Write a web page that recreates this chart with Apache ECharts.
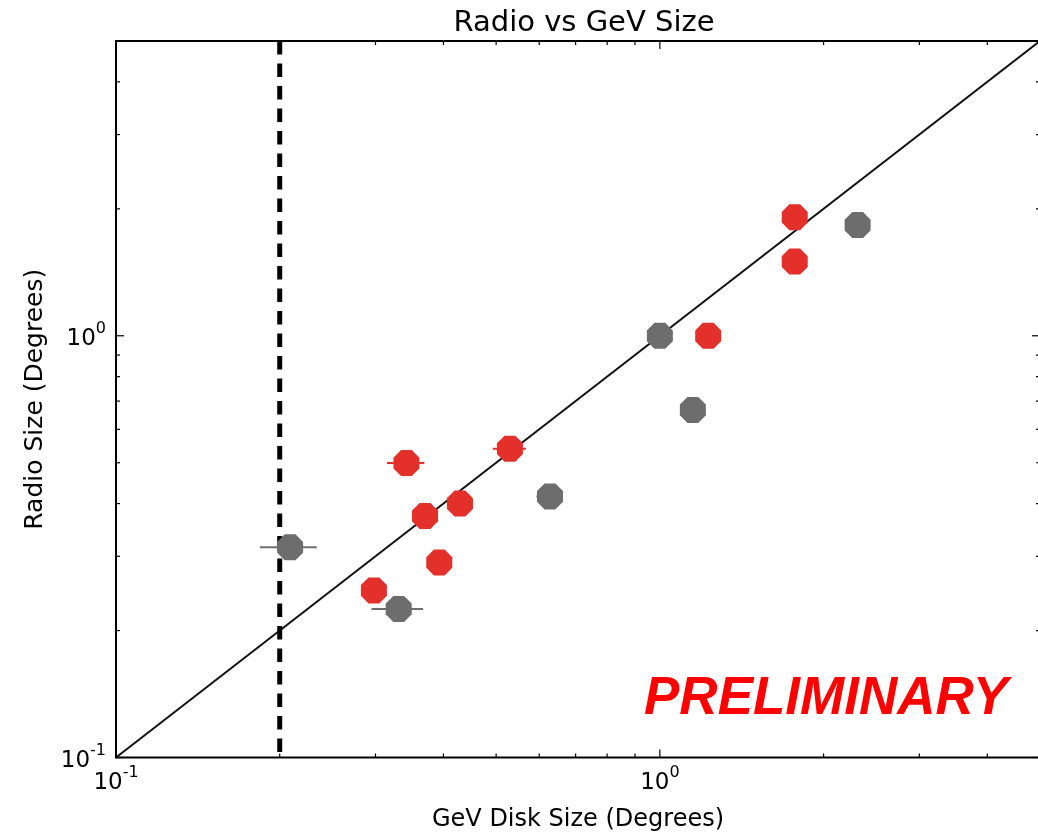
<!DOCTYPE html>
<html>
<head>
<meta charset="utf-8">
<title>Radio vs GeV Size</title>
<script src="https://cdn.jsdelivr.net/npm/echarts@6/dist/echarts.min.js"></script>
<style>
  html, body { margin: 0; padding: 0; background: #fff; }
  #chart { width: 1038px; height: 835px; }
</style>
</head>
<body>
<div id="chart"></div>
<script>
// Sources with no radio counterpart shown in grey, radio-detected ones in red.
const grayX    = [0.209, 0.331, 0.628, 1.00, 1.15, 2.31];
const grayY    = [0.315, 0.225, 0.416, 1.00, 0.667, 1.83];
const grayXErr = [0.025, 0.036, 0.035, 0, 0, 0];

const redX    = [0.298, 0.342, 0.370, 0.393, 0.429, 0.530, 1.227, 1.77, 1.77];
const redY    = [0.249, 0.499, 0.374, 0.290, 0.400, 0.540, 1.00, 1.50, 1.91];
const redXErr = [0, 0.027, 0, 0, 0, 0.037, 0, 0, 0];

// Axis range (both axes), resolution limit, and tick positions
const axisMin = 0.1;
const axisMax = 5;
const resolutionLimit = 0.2;
const majorTicks = [0.1, 1];
const minorTicks = [0.2, 0.3, 0.4, 0.5, 0.6, 0.7, 0.8, 0.9, 2, 3, 4];
const tickLabels = { 0.1: ['10', '-1'], 1: ['10', '0'] };

const RED = '#e3302a';
const GRAY = '#6d6d6d';
const FONT = 'DejaVu Sans';
const OCTAGON = 'path://M38 -92L92 -38L92 38L38 92L-38 92L-92 38L-92 -38L-38 -92Z';

const pts = (xs, ys) => xs.map((x, i) => [x, ys[i]]);
const errs = (xs, ys, es) => xs.map((x, i) => [x, ys[i], es[i]]);

function labelFmt(v) {
  for (const k of Object.keys(tickLabels)) {
    if (Math.abs(v - Number(k)) < 1e-9) {
      const t = tickLabels[k];
      return '{b|' + t[0] + '}{s|' + t[1] + '}';
    }
  }
  return '';
}
const labelRich = {
  b: { fontFamily: FONT, fontSize: 23, color: '#000', lineHeight: 30, verticalAlign: 'bottom' },
  s: { fontFamily: FONT, fontSize: 16, color: '#000', lineHeight: 16, verticalAlign: 'top' }
};

function errorBarSeries(data, color) {
  return {
    type: 'custom',
    z: 3,
    data: data,
    renderItem: function (params, api) {
      const x = api.value(0), y = api.value(1), e = api.value(2);
      if (!e) return null;
      const a = api.coord([x - e, y]);
      const b = api.coord([x + e, y]);
      return {
        type: 'line',
        shape: { x1: a[0], y1: a[1], x2: b[0], y2: b[1] },
        style: { stroke: color, lineWidth: 2 }
      };
    }
  };
}

// Inward ticks on all four sides of the frame
const tickData = majorTicks.map(v => [v, v, 8]).concat(minorTicks.map(v => [v, v, 4]));
const tickSeries = {
  type: 'custom',
  z: 6,
  silent: true,
  clip: false,
  data: tickData,
  renderItem: function (params, api) {
    const cs = params.coordSys;
    const v = api.value(0), len = api.value(2);
    const px = api.coord([v, axisMin])[0];
    const py = api.coord([axisMin, v])[1];
    const left = cs.x, right = cs.x + cs.width, top = cs.y, bottom = cs.y + cs.height;
    const st = { stroke: '#000', lineWidth: 1.2 };
    return {
      type: 'group',
      children: [
        { type: 'line', shape: { x1: px, y1: bottom, x2: px, y2: bottom - len }, style: st },
        { type: 'line', shape: { x1: px, y1: top, x2: px, y2: top + len }, style: st },
        { type: 'line', shape: { x1: left, y1: py, x2: left + len, y2: py }, style: st },
        { type: 'line', shape: { x1: right, y1: py, x2: right - len, y2: py }, style: st }
      ]
    };
  }
};

const chart = echarts.init(document.getElementById('chart'), null, { renderer: 'canvas' });
chart.setOption({
  backgroundColor: '#fff',
  animation: false,
  title: {
    text: 'Radio vs GeV Size',
    left: 579,
    textAlign: 'center',
    top: 4,
    textStyle: { fontFamily: FONT, fontSize: 29, fontWeight: 'normal', color: '#000' }
  },
  grid: {
    left: 116, right: -2, top: 41, bottom: 77.5,
    show: true, borderColor: '#000', borderWidth: 2, backgroundColor: 'transparent',
    containLabel: false, outerBoundsMode: 'none'
  },
  xAxis: {
    type: 'log', logBase: 10, min: axisMin, max: axisMax,
    name: 'GeV Disk Size (Degrees)', nameLocation: 'middle', nameGap: 50,
    nameTextStyle: { fontFamily: FONT, fontSize: 24, color: '#000' },
    axisLine: { show: false }, axisTick: { show: false }, splitLine: { show: false },
    minorTick: { show: false }, minorSplitLine: { show: false },
    axisLabel: { margin: 7, formatter: labelFmt, rich: labelRich, showMinLabel: true, showMaxLabel: false }
  },
  yAxis: {
    type: 'log', logBase: 10, min: axisMin, max: axisMax,
    name: 'Radio Size (Degrees)', nameLocation: 'middle', nameGap: 68,
    nameTextStyle: { fontFamily: FONT, fontSize: 25, color: '#000' },
    axisLine: { show: false }, axisTick: { show: false }, splitLine: { show: false },
    minorTick: { show: false }, minorSplitLine: { show: false },
    axisLabel: { margin: 10, formatter: labelFmt, rich: labelRich, showMinLabel: true, showMaxLabel: false }
  },
  graphic: [{
    type: 'text',
    left: 644, top: 673,
    z: 10,
    style: {
      text: 'PRELIMINARY',
      fill: '#ff0000',
      font: 'italic bold 53px "Liberation Sans", Arial, sans-serif'
    }
  }],
  series: [
    {
      type: 'line', z: 2, symbol: 'none', silent: true,
      data: [[axisMin, axisMin], [axisMax, axisMax]],
      lineStyle: { color: '#111', width: 2 }
    },
    {
      type: 'line', z: 2, symbol: 'none', silent: true,
      data: [[resolutionLimit, axisMax], [resolutionLimit, axisMin]],
      lineStyle: { color: '#000', width: 5, type: [13.5, 9] }
    },
    errorBarSeries(errs(grayX, grayY, grayXErr), GRAY),
    errorBarSeries(errs(redX, redY, redXErr), RED),
    {
      type: 'scatter', z: 4, symbol: OCTAGON, symbolSize: 26,
      data: pts(grayX, grayY),
      itemStyle: { color: GRAY, opacity: 1 }
    },
    {
      type: 'scatter', z: 4, symbol: OCTAGON, symbolSize: 26,
      data: pts(redX, redY),
      itemStyle: { color: RED, opacity: 1 }
    },
    tickSeries
  ]
});
</script>
</body>
</html>
